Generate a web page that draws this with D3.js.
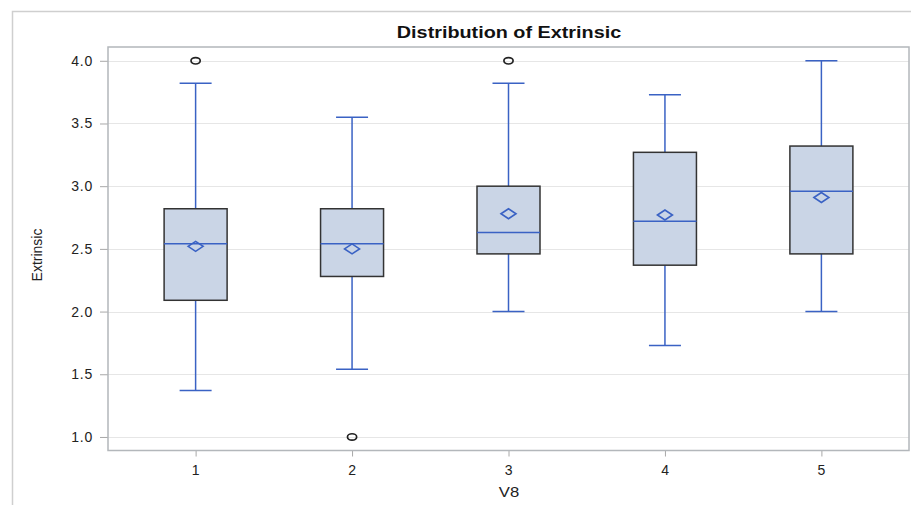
<!DOCTYPE html>
<html>
<head>
<meta charset="utf-8">
<script src="https://cdn.jsdelivr.net/npm/d3@7"></script>
<style>
  body { margin: 0; background: #fff; }
  text { font-family: "Liberation Sans", Arial, sans-serif; }
</style>
</head>
<body>
<script>
// groups of V8 and their box statistics
const groups = ["1", "2", "3", "4", "5"];
const q1 = [2.09, 2.28, 2.46, 2.37, 2.46];
const median = [2.54, 2.54, 2.63, 2.72, 2.96];
const q3 = [2.82, 2.82, 3.00, 3.27, 3.32];
const mean = [2.52, 2.50, 2.78, 2.77, 2.91];
const whiskerLow = [1.37, 1.54, 2.00, 1.73, 2.00];
const whiskerHigh = [3.82, 3.55, 3.82, 3.73, 4.00];
const outliers = [[4.0], [1.0], [4.0], [], []];
const yTicks = [1.0, 1.5, 2.0, 2.5, 3.0, 3.5, 4.0];

const width = 911, height = 505;
const plot = {left: 108, top: 47, right: 909, bottom: 450.5};
const blue = "#3a62c4";

const svg = d3.select("body").append("svg")
    .attr("width", width)
    .attr("height", height);

// outer frame (only top and left edges visible)
svg.append("path")
    .attr("d", `M12.5,${height} V11.5 H${width}`)
    .attr("fill", "none")
    .attr("stroke", "#cfcfcf")
    .attr("stroke-width", 1.5);

const x = d3.scalePoint()
    .domain(groups)
    .range([plot.left, plot.right])
    .padding(0.56);

const y = d3.scaleLinear()
    .domain([0.892, 4.11])
    .range([plot.bottom, plot.top]);

// grid
svg.append("g")
    .selectAll("line")
    .data(yTicks)
    .join("line")
    .attr("x1", plot.left)
    .attr("x2", plot.right)
    .attr("y1", d => Math.round(y(d)) + 0.5)
    .attr("y2", d => Math.round(y(d)) + 0.5)
    .attr("stroke", "#e6e6e6");

// axes
const yAxis = svg.append("g")
    .attr("transform", `translate(${plot.left},0)`)
    .call(d3.axisLeft(y).tickValues(yTicks).tickFormat(d3.format(".1f")).tickSize(8).tickPadding(7));
const xAxis = svg.append("g")
    .attr("transform", `translate(0,${plot.bottom})`)
    .call(d3.axisBottom(x).tickSize(6).tickPadding(9));

[yAxis, xAxis].forEach(a => {
    a.select(".domain").remove();
    a.selectAll(".tick line").attr("stroke", "#a8a8a8");
    a.selectAll(".tick text")
        .attr("fill", "#222")
        .style("font-size", "14px")
        .style("letter-spacing", "0.8px")
        .style("font-family", "'Liberation Sans', Arial, sans-serif");
});

// plot frame
svg.append("rect")
    .attr("x", plot.left)
    .attr("y", plot.top)
    .attr("width", plot.right - plot.left)
    .attr("height", plot.bottom - plot.top)
    .attr("fill", "none")
    .attr("stroke", "#b3b7bb")
    .attr("stroke-width", 1.5);

const boxW = 63, capW = 32;
const stats = groups.map((g, i) => ({
    g, q1: q1[i], med: median[i], q3: q3[i], mean: mean[i],
    lo: whiskerLow[i], hi: whiskerHigh[i], out: outliers[i]
}));

const box = svg.append("g")
    .selectAll("g")
    .data(stats)
    .join("g")
    .attr("transform", d => `translate(${x(d.g)},0)`);

// whisker stems
box.append("line")
    .attr("y1", d => y(d.hi)).attr("y2", d => y(d.q3))
    .attr("stroke", blue).attr("stroke-width", 1.5);
box.append("line")
    .attr("y1", d => y(d.q1)).attr("y2", d => y(d.lo))
    .attr("stroke", blue).attr("stroke-width", 1.5);
// caps
box.selectAll("line.cap")
    .data(d => [d.lo, d.hi])
    .join("line")
    .attr("class", "cap")
    .attr("x1", -capW / 2).attr("x2", capW / 2)
    .attr("y1", d => y(d)).attr("y2", d => y(d))
    .attr("stroke", blue).attr("stroke-width", 1.5);

box.append("rect")
    .attr("x", -boxW / 2)
    .attr("width", boxW)
    .attr("y", d => y(d.q3))
    .attr("height", d => y(d.q1) - y(d.q3))
    .attr("fill", "#cad5e6")
    .attr("stroke", "#333")
    .attr("stroke-width", 1.5);

box.append("line")
    .attr("x1", -boxW / 2).attr("x2", boxW / 2)
    .attr("y1", d => y(d.med)).attr("y2", d => y(d.med))
    .attr("stroke", blue).attr("stroke-width", 1.5);

// mean diamond
box.append("path")
    .attr("d", d => {
        const cy = y(d.mean);
        return `M-7.5,${cy} L0,${cy - 5} L7.5,${cy} L0,${cy + 5} Z`;
    })
    .attr("fill", "none")
    .attr("stroke", blue)
    .attr("stroke-width", 1.6);

// outliers
box.selectAll("ellipse")
    .data(d => d.out)
    .join("ellipse")
    .attr("cy", d => y(d))
    .attr("rx", 4.6)
    .attr("ry", 3.2)
    .attr("fill", "none")
    .attr("stroke", "#222")
    .attr("stroke-width", 1.7);

// title and axis labels
svg.append("text")
    .attr("transform", "translate(509,38) scale(1.2,1)")
    .attr("text-anchor", "middle")
    .style("font-size", "16.5px")
    .style("font-weight", "bold")
    .attr("fill", "#111")
    .text("Distribution of Extrinsic");

svg.append("text")
    .attr("transform", "translate(42,255) rotate(-90)")
    .attr("text-anchor", "middle")
    .style("font-size", "14px")
    .style("font-family", "'Liberation Sans Narrow', 'Liberation Sans', Arial, sans-serif")
    .attr("fill", "#222")
    .text("Extrinsic");

svg.append("text")
    .attr("transform", "translate(509,497) scale(1.15,1)")
    .attr("text-anchor", "middle")
    .style("font-size", "14.5px")
    .attr("fill", "#222")
    .text("V8");
</script>
</body>
</html>
